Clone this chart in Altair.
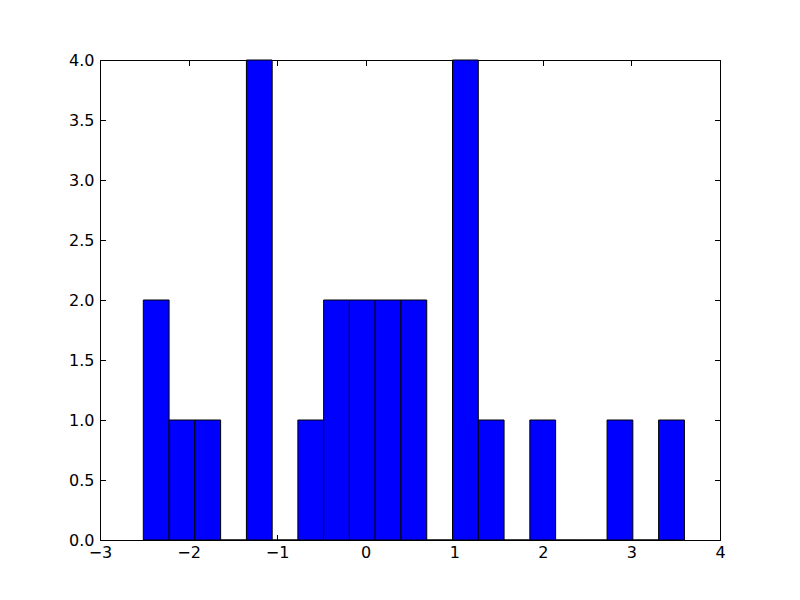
import altair as alt
import pandas as pd

# Histogram bins (left/right edges) and counts
bin_left = [-2.511, -2.220, -1.929, -1.638, -1.347, -1.056, -0.766, -0.475, -0.184, 0.107,
            0.398, 0.689, 0.980, 1.271, 1.562, 1.853, 2.144, 2.434, 2.725, 3.016, 3.307]
bin_right = [-2.220, -1.929, -1.638, -1.347, -1.056, -0.766, -0.475, -0.184, 0.107, 0.398,
             0.689, 0.980, 1.271, 1.562, 1.853, 2.144, 2.434, 2.725, 3.016, 3.307, 3.598]
counts = [2, 1, 1, 0, 4, 0, 1, 2, 2, 2, 2, 0, 4, 1, 0, 1, 0, 0, 1, 0, 1]

x_ticks = [-3, -2, -1, 0, 1, 2, 3, 4]
y_ticks = [0.0, 0.5, 1.0, 1.5, 2.0, 2.5, 3.0, 3.5, 4.0]

df = pd.DataFrame({"left": bin_left, "right": bin_right, "count": counts})
df["base"] = 0

xscale = alt.Scale(domain=[-3, 4], nice=False, zero=False)
yscale = alt.Scale(domain=[0, 4], nice=False)

common = dict(domain=False, tickSize=5.5, offset=-5.5, tickColor="black", tickWidth=1,
              grid=False, labelFont="DejaVu Sans", labelFontSize=16, labelColor="black",
              title=None, labelOverlap=False, labelFlush=False)

bars = alt.Chart(df).mark_rect(fill="#0000ff", stroke="black", strokeWidth=1).encode(
    x=alt.X("left:Q", scale=xscale,
            axis=alt.Axis(orient="bottom", values=x_ticks, format="d", labelPadding=4, **common)),
    x2="right:Q",
    y=alt.Y("count:Q", scale=yscale,
            axis=alt.Axis(orient="left", values=y_ticks, format=".1f", labelPadding=6, **common)),
    y2="base:Q",
)

ghost = alt.Chart(df).mark_rect(opacity=0).encode(
    x=alt.X("left:Q", scale=xscale,
            axis=alt.Axis(orient="top", values=x_ticks, labels=False, **common)),
    x2="right:Q",
    y=alt.Y("count:Q", scale=yscale,
            axis=alt.Axis(orient="right", values=y_ticks, labels=False, **common)),
    y2="base:Q",
)

chart = alt.layer(bars, ghost).resolve_axis(x="independent", y="independent").properties(
    width=620, height=480,
    autosize=alt.AutoSizeParams(type="none"),
    padding={"left": 92, "top": 52, "right": 72, "bottom": 52},
    background="white",
).configure_view(stroke="black", strokeWidth=1)

chart.save("out.html", embed_options={"renderer": "svg", "actions": False})
